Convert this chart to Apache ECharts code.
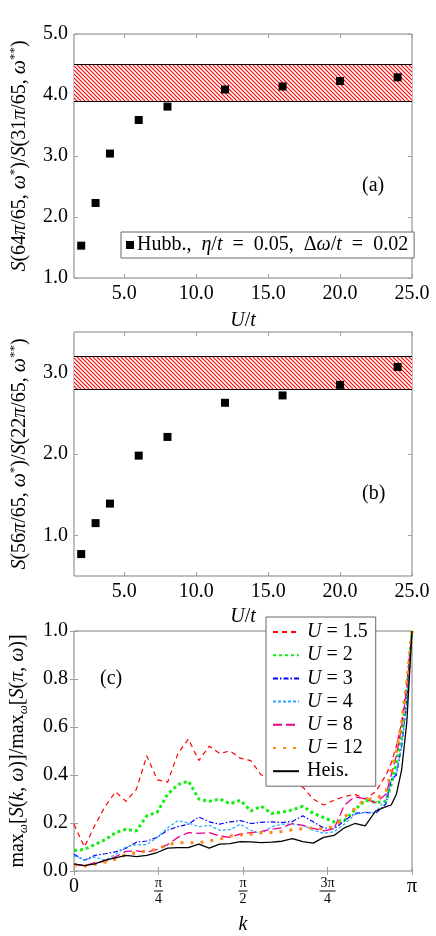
<!DOCTYPE html>
<html>
<head>
<meta charset="utf-8">
<script src="https://cdn.jsdelivr.net/npm/echarts@6/dist/echarts.min.js"></script>
<style>
  html, body { margin: 0; padding: 0; background: #fff; }
  #main { width: 436px; height: 936px; }
</style>
</head>
<body>
<div id="main"></div>
<script>
// (a), (b): peak ratios vs U/t
var uVals = [2, 3, 4, 6, 8, 12, 16, 20, 24];
var ratioA = [1.53, 2.23, 3.04, 3.59, 3.81, 4.09, 4.14, 4.23, 4.29];
var ratioB = [0.77, 1.15, 1.39, 1.98, 2.21, 2.63, 2.72, 2.85, 3.07];
var bandA = [3.9, 4.5];
var bandB = [2.8, 3.2];
var uTicks = [5, 10, 15, 20, 25];

// (c): k = n*pi/65
var kIdx = [0, 2, 4, 6, 8, 10, 12, 14, 16, 18, 20, 22, 24, 26, 28, 30, 32, 34, 36, 38,
            40, 42, 44, 46, 48, 50, 52, 54, 56, 58, 60, 61, 62, 63, 64, 65];
var u15 = [0.195, 0.10, 0.19, 0.27, 0.33, 0.29, 0.34, 0.48, 0.38, 0.37, 0.49, 0.55, 0.46, 0.52, 0.49, 0.50,
           0.47, 0.46, 0.40, 0.39, 0.37, 0.36, 0.35, 0.30, 0.275, 0.295, 0.31, 0.32, 0.30, 0.33, 0.40,
           0.45, 0.52, 0.62, 0.78, 1.0];
var u2 = [0.085, 0.09, 0.11, 0.13, 0.16, 0.174, 0.167, 0.23, 0.245, 0.32, 0.36, 0.375, 0.30, 0.29, 0.30, 0.28,
          0.295, 0.25, 0.27, 0.24, 0.245, 0.255, 0.27, 0.24, 0.223, 0.205, 0.21, 0.255, 0.295, 0.286, 0.29,
          0.36, 0.45, 0.57, 0.74, 1.0];
var u3 = [0.07, 0.045, 0.065, 0.072, 0.08, 0.095, 0.12, 0.125, 0.14, 0.17, 0.185, 0.195, 0.225, 0.205, 0.195, 0.205,
          0.21, 0.198, 0.203, 0.205, 0.202, 0.206, 0.23, 0.205, 0.18, 0.175, 0.21, 0.24, 0.244, 0.24, 0.28,
          0.38, 0.40, 0.52, 0.70, 1.0];
var u4 = [0.063, 0.045, 0.058, 0.045, 0.07, 0.10, 0.11, 0.11, 0.14, 0.18, 0.21, 0.20, 0.185, 0.19, 0.17, 0.172,
          0.195, 0.17, 0.155, 0.185, 0.195, 0.195, 0.19, 0.17, 0.157, 0.163, 0.195, 0.235, 0.244, 0.245, 0.30,
          0.38, 0.41, 0.52, 0.70, 1.0];
var u8 = [0.028, 0.022, 0.035, 0.04, 0.06, 0.082, 0.084, 0.078, 0.09, 0.11, 0.14, 0.16, 0.157, 0.16, 0.146, 0.14,
          0.155, 0.16, 0.165, 0.174, 0.18, 0.198, 0.19, 0.178, 0.167, 0.175, 0.275, 0.31, 0.30, 0.285, 0.32,
          0.40, 0.48, 0.60, 0.76, 1.0];
var u12 = [0.025, 0.02, 0.028, 0.037, 0.05, 0.068, 0.076, 0.084, 0.09, 0.11, 0.118, 0.117, 0.118, 0.125, 0.132, 0.146,
           0.15, 0.153, 0.16, 0.16, 0.165, 0.172, 0.176, 0.18, 0.175, 0.185, 0.225, 0.26, 0.30, 0.30, 0.33,
           0.42, 0.50, 0.62, 0.79, 1.0];
var heis = [0.03, 0.022, 0.03, 0.045, 0.055, 0.065, 0.06, 0.065, 0.077, 0.095, 0.097, 0.097, 0.112, 0.095, 0.112, 0.114,
            0.122, 0.121, 0.118, 0.12, 0.124, 0.135, 0.122, 0.116, 0.14, 0.148, 0.18, 0.198, 0.188, 0.25, 0.268,
            0.275, 0.32, 0.42, 0.62, 1.0];
var kTicks = [0, Math.PI / 4, Math.PI / 2, 3 * Math.PI / 4, Math.PI];

var font = 'Liberation Serif';
var fs = 20;
var gray = '#808080';
var chart = echarts.init(document.getElementById('main'));

// red "north west lines" hatch for the bands
function hatch() {
  var c = document.createElement('canvas');
  c.width = 4; c.height = 4;
  var g = c.getContext('2d');
  g.fillStyle = '#fff';
  g.fillRect(0, 0, 4, 4);
  g.strokeStyle = '#ff0000';
  g.lineWidth = 1.1;
  g.beginPath();
  g.moveTo(-1, -1); g.lineTo(5, 5);
  g.moveTo(-1, 3); g.lineTo(1, 5);
  g.moveTo(3, -1); g.lineTo(5, 1);
  g.stroke();
  return c;
}
var hatchFill = { image: hatch(), repeat: 'repeat' };

var mathRich = {
  i: { fontFamily: font, fontSize: fs, fontStyle: 'italic', lineHeight: 24 },
  r: { fontFamily: font, fontSize: fs, lineHeight: 24 },
  s: { fontFamily: font, fontSize: 13, verticalAlign: 'top', lineHeight: 15 },
  si: { fontFamily: font, fontSize: 13, fontStyle: 'italic', verticalAlign: 'bottom', lineHeight: 14 }
};

function pairs(xs, ys, f) {
  return xs.map(function (x, i) { return [f ? f(x) : x, ys[i]]; });
}

function tickStyle() {
  return { show: true, inside: true, length: 4, lineStyle: { color: '#a0a0a0' } };
}

function xBottom(grid, opt) {
  return Object.assign({
    gridIndex: grid, type: 'value', position: 'bottom',
    axisLine: { show: false }, splitLine: { show: false },
    axisTick: tickStyle(),
    axisLabel: { fontFamily: font, fontSize: fs, color: '#000', margin: 6 },
    nameLocation: 'middle', nameTextStyle: { fontFamily: font, fontSize: fs, color: '#000', rich: mathRich }
  }, opt);
}
function xTop(grid, opt) {
  return Object.assign({
    gridIndex: grid, type: 'value', position: 'top',
    axisLine: { show: false }, splitLine: { show: false },
    axisTick: tickStyle(), axisLabel: { show: false }
  }, opt);
}
function yLeft(grid, opt) {
  return Object.assign({
    gridIndex: grid, type: 'value', position: 'left',
    axisLine: { show: false }, splitLine: { show: false },
    axisTick: tickStyle(),
    axisLabel: { fontFamily: font, fontSize: fs, color: '#000', margin: 6,
                 formatter: function (v) { return v.toFixed(1); } },
    nameLocation: 'middle', nameRotate: 90,
    nameTextStyle: { fontFamily: font, fontSize: fs, color: '#000', rich: mathRich }
  }, opt);
}
function yRight(grid, opt) {
  return Object.assign({
    gridIndex: grid, type: 'value', position: 'right',
    axisLine: { show: false }, splitLine: { show: false },
    axisTick: tickStyle(), axisLabel: { show: false }
  }, opt);
}

var fmt1 = function (v) { return v.toFixed(1); };
var uRange = { min: 1.5, max: 25 };

var kLabel = function (v) {
  var idx = Math.round(v / (Math.PI / 4));
  return ['{w|0}', '{n|π}\n{b1|}\n{n|4}', '{n|π}\n{b1|}\n{n|2}', '{n|3π}\n{b2|}\n{n|4}', '{w|π}'][idx];
};

function bandMarks(band) {
  return {
    markArea: {
      silent: true,
      itemStyle: { color: hatchFill, opacity: 1 },
      data: [[{ yAxis: band[0] }, { yAxis: band[1] }]]
    },
    markLine: {
      silent: true, symbol: 'none', label: { show: false },
      lineStyle: { color: '#000', width: 1, type: 'solid' },
      data: [{ yAxis: band[0] }, { yAxis: band[1] }]
    }
  };
}

function lineSeries(name, ys, color, type, width) {
  return {
    name: name, type: 'line', xAxisIndex: 4, yAxisIndex: 4,
    data: pairs(kIdx, ys, function (n) { return n * Math.PI / 65; }),
    symbol: 'none', smooth: false,
    lineStyle: { color: color, width: width, type: type, cap: 'butt' },
    itemStyle: { color: color }
  };
}

var hubbName = 'Hubb., η/t = 0.05, Δω/t = 0.02';
var sp = '\u2002';
var eq = '\u2002=\u2002';
var eqC = '\u2005=\u2005';

var option = {
  animation: false,
  backgroundColor: '#fff',
  grid: [
    { left: 70, right: 24, top: 34, height: 244 },
    { left: 70, right: 24, top: 332, height: 244 },
    { left: 70, right: 24, top: 631, height: 242 }
  ].map(function (g) {
    return Object.assign({ show: true, borderColor: gray, borderWidth: 1, backgroundColor: 'transparent' }, g);
  }),
  title: [
    { text: '(a)', left: 362, top: 176, padding: 0, textStyle: { fontFamily: font, fontSize: fs, fontWeight: 'normal', color: '#000' } },
    { text: '(b)', left: 362, top: 484, padding: 0, textStyle: { fontFamily: font, fontSize: fs, fontWeight: 'normal', color: '#000' } },
    { text: '(c)', left: 100, top: 669, padding: 0, textStyle: { fontFamily: font, fontSize: fs, fontWeight: 'normal', color: '#000' } }
  ],
  xAxis: [
    xBottom(0, Object.assign({ name: '{i|U}{r|/}{i|t}', nameGap: 31,
      axisLabel: { fontFamily: font, fontSize: fs, color: '#000', margin: 6, formatter: fmt1, customValues: uTicks },
      axisTick: Object.assign(tickStyle(), { customValues: uTicks }) }, uRange)),
    xTop(0, Object.assign({ axisTick: Object.assign(tickStyle(), { customValues: uTicks }) }, uRange)),
    xBottom(1, Object.assign({ name: '{i|U}{r|/}{i|t}', nameGap: 29,
      axisLabel: { fontFamily: font, fontSize: fs, color: '#000', margin: 6, formatter: fmt1, customValues: uTicks },
      axisTick: Object.assign(tickStyle(), { customValues: uTicks }) }, uRange)),
    xTop(1, Object.assign({ axisTick: Object.assign(tickStyle(), { customValues: uTicks }) }, uRange)),
    xBottom(2, { min: 0, max: Math.PI, name: '{i|k}', nameGap: 42,
      axisLabel: { color: '#000', margin: 6, formatter: kLabel, customValues: kTicks,
        rich: {
          w: { fontFamily: font, fontSize: fs },
          n: { fontFamily: font, fontSize: 14, lineHeight: 12, align: 'center' },
          b1: { width: 9, height: 1, backgroundColor: '#000', lineHeight: 4 },
          b2: { width: 16, height: 1, backgroundColor: '#000', lineHeight: 4 }
        } },
      axisTick: Object.assign(tickStyle(), { customValues: kTicks }) }),
    xTop(2, { min: 0, max: Math.PI, axisTick: Object.assign(tickStyle(), { customValues: kTicks }) })
  ],
  yAxis: [
    yLeft(0, { min: 1, max: 5, interval: 1, nameGap: 42,
      name: '{i|S}{r|(64}{i|π}{r|/65, }{i|ω}{s|*}{r|)/}{i|S}{r|(31}{i|π}{r|/65, }{i|ω}{s|**}{r|)}' }),
    yRight(0, { min: 1, max: 5, interval: 1 }),
    yLeft(1, { min: 0.5, max: 3.5, nameGap: 42,
      axisLabel: { fontFamily: font, fontSize: fs, color: '#000', margin: 6, formatter: fmt1, customValues: [1, 2, 3] },
      axisTick: Object.assign(tickStyle(), { customValues: [1, 2, 3] }),
      name: '{i|S}{r|(56}{i|π}{r|/65, }{i|ω}{s|*}{r|)/}{i|S}{r|(22}{i|π}{r|/65, }{i|ω}{s|**}{r|)}' }),
    yRight(1, { min: 0.5, max: 3.5, axisTick: Object.assign(tickStyle(), { customValues: [1, 2, 3] }) }),
    yLeft(2, { min: 0, max: 1, interval: 0.2, nameGap: 44,
      name: '{r|max}{si|ω}{r|[}{i|S}{r|(}{i|k}{r|, }{i|ω}{r|)]/max}{si|ω}{r|[}{i|S}{r|(}{i|π}{r|, }{i|ω}{r|)]}' }),
    yRight(2, { min: 0, max: 1, interval: 0.2 })
  ],
  legend: [
    {
      data: [hubbName], left: 121, top: 232, padding: [3, 6, 3, 5],
      backgroundColor: '#fff', borderColor: '#666', borderWidth: 1,
      icon: 'rect', itemWidth: 8, itemHeight: 8, itemGap: 0,
      itemStyle: { color: '#000', opacity: 1 },
      textStyle: { fontFamily: font, fontSize: fs, color: '#000', rich: mathRich, padding: [0, 0, 0, -2] },
      formatter: function () {
        return '{r|Hubb.,' + sp + '}{i|η}{r|/}{i|t}{r|' + eq + '0.05,' + sp + 'Δ}{i|ω}{r|/}{i|t}{r|' +
          eq + '0.02}';
      }
    },
    {
      data: ['U = 1.5', 'U = 2', 'U = 3', 'U = 4', 'U = 8', 'U = 12', 'Heis.'],
      orient: 'vertical', left: 266, top: 617, padding: [5, 8, 5, 6],
      backgroundColor: '#fff', borderColor: '#666', borderWidth: 1,
      itemWidth: 26, itemHeight: 14, itemGap: 3.2, z: 10,
      itemStyle: { color: 'rgba(0,0,0,0)', borderColor: 'rgba(0,0,0,0)', borderWidth: 0 },
      textStyle: { fontFamily: font, fontSize: fs, color: '#000', rich: mathRich, padding: [0, 0, 0, 3] },
      formatter: function (name) {
        return name.charAt(0) === 'U' ? '{i|U}{r|' + eqC + name.slice(4) + '}' : '{r|' + name + '}';
      }
    }
  ],
  series: [
    Object.assign({
      name: hubbName, type: 'scatter', xAxisIndex: 0, yAxisIndex: 0,
      data: pairs(uVals, ratioA), symbol: 'rect', symbolSize: 8,
      itemStyle: { color: '#000', opacity: 1 }, z: 5
    }, bandMarks(bandA)),
    Object.assign({
      name: 'b', type: 'scatter', xAxisIndex: 2, yAxisIndex: 2,
      data: pairs(uVals, ratioB), symbol: 'rect', symbolSize: 8,
      itemStyle: { color: '#000', opacity: 1 }, z: 5
    }, bandMarks(bandB)),
    lineSeries('U = 1.5', u15, '#ff0000', [5, 4], 1.2),
    lineSeries('U = 2', u2, '#11ee11', [3, 3], 3),
    lineSeries('U = 3', u3, '#0000ff', [5, 2, 1.5, 2], 1.2),
    lineSeries('U = 4', u4, '#22aaff', [3, 2], 1.2),
    lineSeries('U = 8', u8, '#ee0088', [9, 4], 1.3),
    lineSeries('U = 12', u12, '#ff8811', [3, 7], 3),
    lineSeries('Heis.', heis, '#000000', 'solid', 1.3)
  ]
};

chart.setOption(option);
</script>
</body>
</html>
